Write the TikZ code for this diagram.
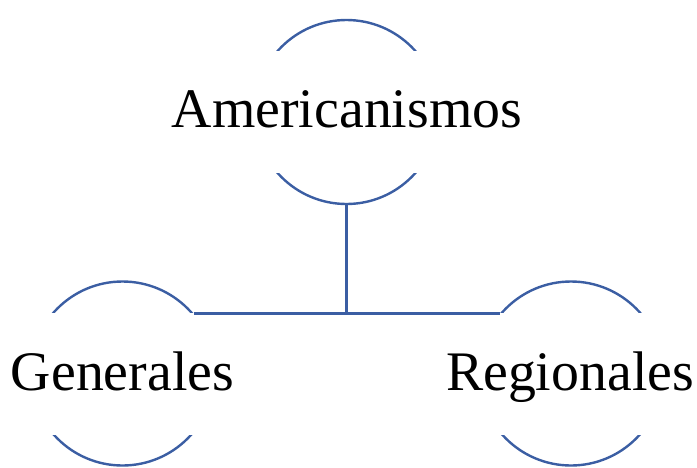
\documentclass[tikz,border=0pt]{standalone}
\usepackage{fontspec}
\setmainfont{Liberation Serif}
\definecolor{arcblue}{RGB}{59,94,163}
\begin{document}
\begin{tikzpicture}[x=1pt,y=-1pt,
  ring/.style={circle, draw=arcblue, line width=2.4pt, minimum size=184pt, inner sep=0pt},
  mask/.style={fill=white, minimum height=122pt, minimum width=200pt, inner sep=0pt},
  lbl/.style={font=\fontsize{55.8}{60}\selectfont, inner sep=0pt, anchor=base},
  link/.style={draw=arcblue, line width=2.4pt}]
\useasboundingbox (0,0) rectangle (697,467);
\node[ring] (top) at (346.5,112) {};
\node[ring] (gen) at (122.5,373.5) {};
\node[ring] (reg) at (571,373.5) {};
\node[mask] (topmask) at (top.center) {};
\node[mask] (genmask) at (gen.center) {};
\node[mask] (regmask) at (reg.center) {};
\node[lbl] (toptext) at (347,127) {Americanismos};
\node[lbl] (gentext) at (122.5,390) {Generales};
\node[lbl] (regtext) at (570,390) {Regionales};
\coordinate (mid) at (top.south |- gen.40);
\draw[link] (top.south) -- (mid) -- (gen.40);
\draw[link] (mid) -- (reg.140);
\end{tikzpicture}
\end{document}
